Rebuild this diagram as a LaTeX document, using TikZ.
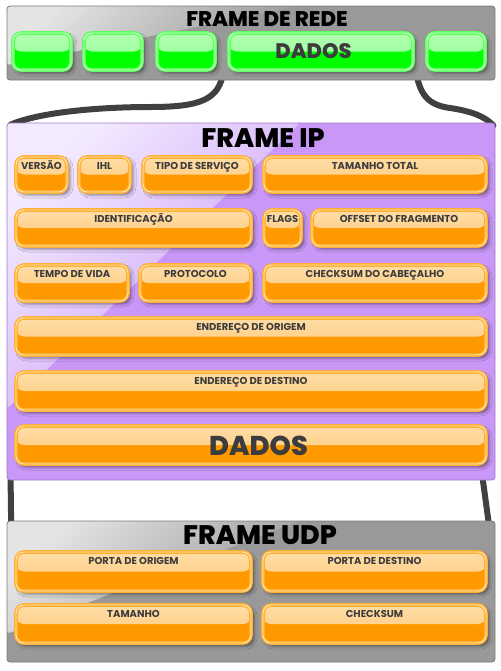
\documentclass[tikz,border=0pt]{standalone}
\usepackage{fontspec}
\setmainfont{Poppins}
\newfontfamily\heavyfont{Poppins ExtraBold}
\usetikzlibrary{fit,calc,shadows.blur,backgrounds}

% palette
\definecolor{frameGray}{HTML}{999999}
\definecolor{frameGrayHi}{HTML}{E4E4E4}
\definecolor{framePurple}{HTML}{C897F7}
\definecolor{framePurpleHi}{HTML}{F3EAFF}
\definecolor{orBase}{HTML}{FF9900}
\definecolor{orHiA}{HTML}{FFDDA6}
\definecolor{orHiB}{HTML}{FFC878}
\definecolor{orRing}{HTML}{FFB030}
\definecolor{orLine}{HTML}{FFE8BC}
\definecolor{grBase}{HTML}{00FF00}
\definecolor{grHiA}{HTML}{B4FFB4}
\definecolor{grHiB}{HTML}{8CFF8C}
\definecolor{grRing}{HTML}{5CFF5C}
\definecolor{grLine}{HTML}{D4FFD4}
\definecolor{labelGray}{HTML}{3C3C3C}
\definecolor{wireGray}{HTML}{404040}

% one field of a header: name, x1, y1, x2, y2, caption
\newcommand\hdrfield[6]{%
  \node[fieldbox, fit={(#2+2,#3+2) (#4-2,#5-2)},
        label={[fieldlabel]north:#6}] (#1) {};}
% one slot of the link-layer frame: name, x1, x2
\newcommand\linkslot[3]{%
  \node[greenbox, fit={(#2+2,33) (#3-2,70)}] (#1) {};}

\begin{document}
\begin{tikzpicture}[x=0.5pt, y=-0.5pt,
  frame/.style n args={2}{draw=#1!80!black, line width=0.4pt, fill=#1,
    rounded corners=1.5pt, inner sep=0pt,
    path picture={
      \coordinate (gA) at ($(path picture bounding box.north west)!0.6!(path picture bounding box.north east)$);
      \coordinate (gB) at ($(path picture bounding box.north west)!0.8!(path picture bounding box.south west)$);
      \fill[top color=#2, bottom color=#1, shading angle=45]
        (path picture bounding box.north west) -- (gA) -- (gB) -- cycle;}},
  fieldbox/.style={rounded corners=4pt, fill=orBase, draw=orRing,
    line width=0.7pt, double=orLine, double distance=0.45pt, inner sep=0pt,
    blur shadow={shadow xshift=1.4pt, shadow yshift=-1.4pt,
      shadow blur radius=1.6pt, shadow opacity=50},
    path picture={\fill[top color=orHiA, bottom color=orHiB]
      (path picture bounding box.north west) rectangle (path picture bounding box.east);}},
  greenbox/.style={rounded corners=4pt, fill=grBase, draw=grRing,
    line width=0.7pt, double=grLine, double distance=0.45pt, inner sep=0pt,
    blur shadow={shadow xshift=1.4pt, shadow yshift=-1.4pt,
      shadow blur radius=1.6pt, shadow opacity=50},
    path picture={\fill[top color=grHiA, bottom color=grHiB]
      (path picture bounding box.north west) rectangle (path picture bounding box.east);}},
  fieldlabel/.style={font=\bfseries\fontsize{5}{6}\selectfont, text=labelGray,
    anchor=base, yshift=-6.75pt, inner sep=0pt},
  bigword/.style={font=\heavyfont\fontsize{#1}{#1}\selectfont, text=labelGray,
    anchor=base, inner sep=0pt},
  title/.style={font=\heavyfont\fontsize{#1}{#1}\selectfont, text=black,
    anchor=base, inner sep=0pt},
  wire/.style={draw=wireGray, line width=3pt, line cap=round}]

\useasboundingbox (0,0) rectangle (500,671);

% ---------- link-layer frame ----------
\node[frame={frameGray}{frameGrayHi}, fit={(7,6) (495,80)}] (rede) {};
\node[title=10.6] (rede-title) at (267,26) {FRAME DE REDE};
\linkslot{g1}{11}{73}
\linkslot{g2}{82}{144}
\linkslot{g3}{155}{217}
\node[greenbox, fit={(229,33) (413,70)}] (dados) {};
\node[bigword=10.5] (dados-text) at (313.5,58) {DADOS};
\linkslot{g5}{425}{487}

% ---------- IP header ----------
\node[frame={framePurple}{framePurpleHi}, fit={(7,123) (495,480)}] (ip) {};
\node[title=13.4] (ip-title) at (263,147) {FRAME IP};
\hdrfield{versao}{14}{155}{69}{194}{VERSÃO}
\hdrfield{ihl}{77}{155}{132}{194}{IHL}
\hdrfield{tos}{141}{155}{253}{194}{TIPO DE SERVIÇO}
\hdrfield{total}{262}{155}{488}{194}{TAMANHO TOTAL}
\hdrfield{ident}{14}{208}{253}{248}{IDENTIFICAÇÃO}
\hdrfield{flags}{262}{208}{303}{248}{FLAGS}
\hdrfield{offset}{310}{208}{488}{248}{OFFSET DO FRAGMENTO}
\hdrfield{ttl}{14}{263}{130}{303}{TEMPO DE VIDA}
\hdrfield{proto}{138}{263}{253}{303}{PROTOCOLO}
\hdrfield{cksum}{262}{263}{488}{303}{CHECKSUM DO CABEÇALHO}
\hdrfield{src}{14}{316}{488}{357}{ENDEREÇO DE ORIGEM}
\hdrfield{dst}{14}{370}{488}{412}{ENDEREÇO DE DESTINO}
\node[fieldbox, fit={(16,426) (486,464)}] (ipdados) {};
\node[bigword=13.6] (ipdados-text) at (258.5,455) {DADOS};

% ---------- UDP header ----------
\node[frame={frameGray}{frameGrayHi}, fit={(7,521) (495,662)}] (udp) {};
\node[title=13.4] (udp-title) at (260,544) {FRAME UDP};
\hdrfield{sport}{14}{550}{253}{593}{PORTA DE ORIGEM}
\hdrfield{dport}{261}{550}{488}{593}{PORTA DE DESTINO}
\hdrfield{ulen}{14}{603}{253}{645}{TAMANHO}
\hdrfield{ucksum}{261}{603}{488}{645}{CHECKSUM}

% ---------- links between the layers ----------
\begin{scope}[on background layer]
  \draw[wire] ([xshift=-2.5pt]dados.south west)
    .. controls (220,100) and (200,107) .. (150,107)
    .. controls (100,107) and (40,112) .. ([xshift=2pt,yshift=-1pt]ip.north west);
  \draw[wire] ([xshift=1pt]dados.south east)
    .. controls (420,95) and (428,105) .. (450,108)
    .. controls (470,111) and (485,116) .. ([xshift=-1pt,yshift=-1.5pt]ip.north east);
  \draw[wire] ([xshift=2pt]ip.south west) -- ([xshift=2.25pt]udp.north west);
  \draw[wire] ([xshift=-6.25pt]ip.south east) -- ([xshift=-3.5pt]udp.north east);
\end{scope}
\end{tikzpicture}
\end{document}
